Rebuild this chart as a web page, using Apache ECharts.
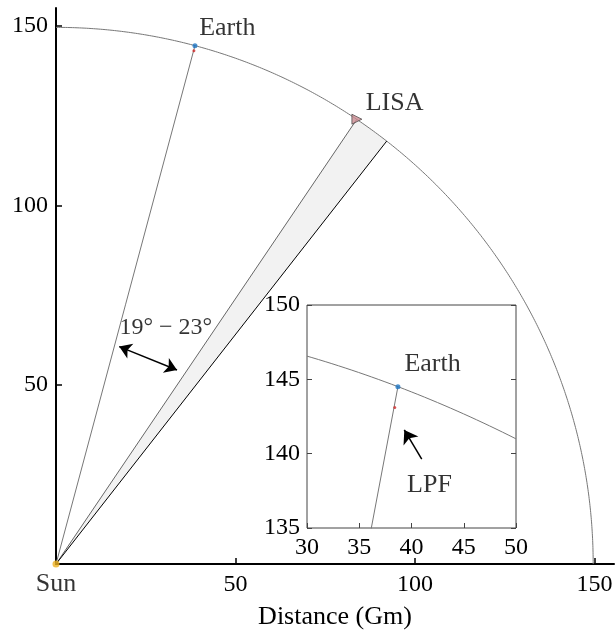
<!DOCTYPE html>
<html>
<head>
<meta charset="utf-8">
<script src="https://cdn.jsdelivr.net/npm/echarts@6/dist/echarts.min.js"></script>
<style>
  html, body { margin: 0; padding: 0; background: #fff; }
  #chart { width: 616px; height: 637px; }
</style>
</head>
<body>
<div id="chart"></div>
<script>
// Heliocentric positions in the ecliptic plane, in Gm
const orbitRadius = 149.6;
const sunPos = [0, 0];
const earthPos = [38.7, 144.5];
const lpfPos = [38.4, 143.1];
const lisaPos = [83.8, 124.0];
const wedgeEdgePos = [92.1, 117.9];

// Tick values
const mainTicks = [50, 100, 150];
const insetXTicks = [30, 35, 40, 45, 50];
const insetYTicks = [135, 140, 145, 150];

// Annotation texts and anchors
const angleText = '19° − 23°';
const angleArrow = [[17.6, 60.6], [33.7, 54.1]];
const lpfArrow = [[40.98, 139.64], [39.31, 141.6]];
const mainLabels = [
  { name: 'Earth', value: [40.0, 149.2] },
  { name: 'LISA', value: [86.4, 128.3] }
];
const angleLabels = [
  { name: angleText, value: [17.8, 65.6] }
];
const insetLabels = [
  { name: 'Earth', value: [42.06, 146.0] },
  { name: 'LPF', value: [41.77, 137.84] }
];

const FONT = 'Liberation Serif';
const tickStyle = { fontFamily: FONT, fontSize: 24, color: '#000' };
const textStyle = { fontFamily: FONT, fontSize: 26, color: '#000' };

function clipRect(cs) {
  return { type: 'rect', shape: { x: cs.x, y: cs.y, width: cs.width, height: cs.height } };
}

// Circular orbit of radius orbitRadius, first quadrant
function orbitItem(params, api) {
  const pts = [];
  for (let d = 0; d <= 90; d += 0.25) {
    const a = d * Math.PI / 180;
    pts.push(api.coord([orbitRadius * Math.cos(a), orbitRadius * Math.sin(a)]));
  }
  return {
    type: 'polyline',
    shape: { points: pts },
    style: { stroke: '#777', lineWidth: 1, fill: null },
    clipPath: clipRect(params.coordSys)
  };
}

// Shaded sector between LISA and the 23° trailing direction
function wedgeItem(params, api) {
  const a1 = Math.atan2(lisaPos[1], lisaPos[0]);
  const a2 = Math.atan2(wedgeEdgePos[1], wedgeEdgePos[0]);
  const pts = [api.coord(sunPos), api.coord(lisaPos)];
  const n = 20;
  for (let i = 1; i < n; i++) {
    const a = a1 + (a2 - a1) * i / n;
    pts.push(api.coord([orbitRadius * Math.cos(a), orbitRadius * Math.sin(a)]));
  }
  pts.push(api.coord(wedgeEdgePos));
  return { type: 'polygon', shape: { points: pts }, style: { fill: '#f2f2f2', stroke: null } };
}

function textSeries(xi, yi, items, align, style) {
  return {
    type: 'scatter', xAxisIndex: xi, yAxisIndex: yi,
    symbolSize: 1, itemStyle: { color: 'rgba(0,0,0,0)' },
    data: items,
    label: {
      show: true, position: [0, 0], formatter: '{b}',
      align: align, verticalAlign: 'middle', ...style
    },
    z: 10, silent: true
  };
}

function segment(xi, yi, pts, color) {
  return {
    type: 'line', xAxisIndex: xi, yAxisIndex: yi,
    data: pts, showSymbol: false, symbol: 'none',
    lineStyle: { color: color, width: 1 }, clip: true, z: 3
  };
}

function dot(xi, yi, pos, color, size, extra) {
  return Object.assign({
    type: 'scatter', xAxisIndex: xi, yAxisIndex: yi,
    data: [pos], symbolSize: size, itemStyle: { color: color }, z: 6
  }, extra || {});
}

const chart = echarts.init(document.getElementById('chart'), null, { renderer: 'canvas' });

chart.setOption({
  animation: false,
  backgroundColor: '#fff',
  grid: [
    { left: 56, top: 8, width: 558, height: 556 },
    { left: 307, top: 305, width: 209, height: 223, show: true,
      backgroundColor: '#fff', borderColor: '#444', borderWidth: 1, z: 5 }
  ],
  xAxis: [
    {
      type: 'value', gridIndex: 0, min: 0, max: 155.4, interval: 50,
      name: 'Distance (Gm)', nameLocation: 'middle', nameGap: 40,
      nameTextStyle: textStyle,
      axisLine: { lineStyle: { color: '#000', width: 2 } },
      axisTick: { inside: true, length: 6, customValues: mainTicks, lineStyle: { color: '#000', width: 1.5 } },
      axisLabel: { margin: 9, customValues: mainTicks, ...tickStyle },
      splitLine: { show: false }
    },
    {
      type: 'value', gridIndex: 1, min: 30, max: 50, interval: 5,
      axisLine: { show: false },
      axisTick: { inside: true, length: 5, customValues: insetXTicks, lineStyle: { color: '#444' } },
      axisLabel: { margin: 8, customValues: insetXTicks, ...tickStyle },
      splitLine: { show: false }, z: 6
    }
  ],
  yAxis: [
    {
      type: 'value', gridIndex: 0, min: 0, max: 155, interval: 50,
      axisLine: { lineStyle: { color: '#000', width: 2 } },
      axisTick: { inside: true, length: 6, customValues: mainTicks, lineStyle: { color: '#000', width: 1.5 } },
      axisLabel: { margin: 8, customValues: mainTicks, ...tickStyle },
      splitLine: { show: false }
    },
    {
      type: 'value', gridIndex: 1, min: 135, max: 150, interval: 5,
      axisLine: { show: false },
      axisTick: { inside: true, length: 5, customValues: insetYTicks, lineStyle: { color: '#444' } },
      axisLabel: { margin: 7, customValues: insetYTicks, ...tickStyle },
      splitLine: { show: false }, z: 6
    },
    {
      type: 'value', gridIndex: 1, min: 135, max: 150, interval: 5, position: 'right',
      axisLine: { show: false },
      axisTick: { inside: true, length: 5, customValues: insetYTicks, lineStyle: { color: '#444' } },
      axisLabel: { show: false },
      splitLine: { show: false }, z: 6
    }
  ],
  series: [
    // main view
    { type: 'custom', xAxisIndex: 0, yAxisIndex: 0, data: [[0, 0]], renderItem: wedgeItem, z: 1, silent: true },
    { type: 'custom', xAxisIndex: 0, yAxisIndex: 0, data: [[0, 0]], renderItem: orbitItem, z: 2, silent: true },
    segment(0, 0, [sunPos, earthPos], '#777'),
    segment(0, 0, [sunPos, lisaPos], '#666'),
    segment(0, 0, [sunPos, wedgeEdgePos], '#000'),
    dot(0, 0, lpfPos, '#d02b2b', 3),
    dot(0, 0, earthPos, '#1f77c4', 5),
    dot(0, 0, lisaPos, '#c98a90', 10, {
      symbol: 'triangle', symbolRotate: -90,
      itemStyle: { color: '#c98a90', borderColor: '#333', borderWidth: 0.8 }
    }),
    dot(0, 0, sunPos, '#EDB120', 7, {
      z: 8,
      label: { show: true, position: 'bottom', distance: 4, formatter: 'Sun', ...textStyle }
    }),
    {
      type: 'lines', coordinateSystem: 'cartesian2d', xAxisIndex: 0, yAxisIndex: 0,
      data: [{ coords: angleArrow }],
      symbol: ['arrow', 'arrow'], symbolSize: 12,
      lineStyle: { color: '#000', width: 1.5, opacity: 1 }, z: 7
    },
    textSeries(0, 0, mainLabels, 'left', textStyle),
    textSeries(0, 0, angleLabels, 'left', tickStyle),

    // inset view
    { type: 'custom', xAxisIndex: 1, yAxisIndex: 1, data: [[0, 0]], renderItem: orbitItem, z: 7, silent: true },
    Object.assign(segment(1, 1, [sunPos, earthPos], '#777'), { z: 7 }),
    dot(1, 1, lpfPos, '#d02b2b', 3, { z: 8 }),
    dot(1, 1, earthPos, '#1f77c4', 5, { z: 8 }),
    {
      type: 'lines', coordinateSystem: 'cartesian2d', xAxisIndex: 1, yAxisIndex: 1,
      data: [{ coords: lpfArrow }],
      symbol: ['none', 'arrow'], symbolSize: 13,
      lineStyle: { color: '#000', width: 1.5, opacity: 1 }, z: 8
    },
    textSeries(1, 1, insetLabels, 'center', textStyle)
  ]
});
</script>
</body>
</html>
